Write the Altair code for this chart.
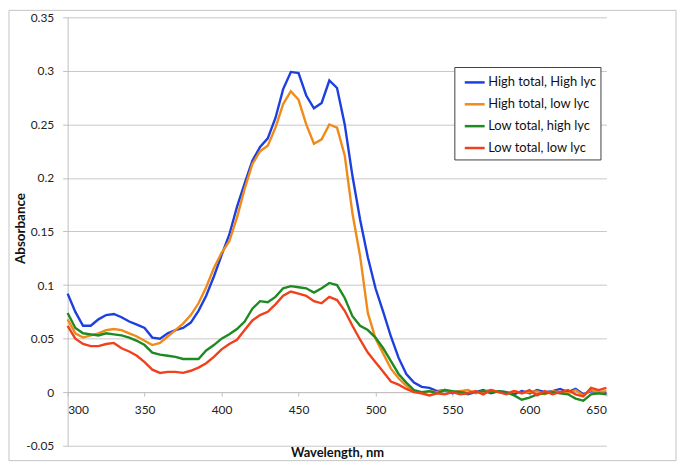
import altair as alt
import pandas as pd

# ---- data ----
wavelength = list(range(300, 655, 5))

series_names = [
    "High total, High lyc",
    "High total, low lyc",
    "Low total, high lyc",
    "Low total, low lyc",
]
series_colors = ["#1c3fe0", "#f08a1a", "#1e8a22", "#f0401c"]

high_total_high_lyc = [
    0.092, 0.075, 0.062, 0.062, 0.068, 0.072, 0.073, 0.070, 0.066, 0.063,
    0.060, 0.051, 0.050, 0.055, 0.058, 0.060, 0.065, 0.076, 0.090, 0.108,
    0.128, 0.147, 0.173, 0.195, 0.216, 0.229, 0.237, 0.256, 0.283, 0.299,
    0.298, 0.277, 0.265, 0.270, 0.291, 0.284, 0.250, 0.202, 0.161, 0.126,
    0.097, 0.075, 0.052, 0.032, 0.017, 0.009,
    0.005, 0.004, 0.001, 0.002, -0.001, 0.001, -0.002, 0.000, 0.002, -0.001,
    0.001, 0.000, -0.002, 0.001, -0.001, 0.002, 0.000, 0.001, 0.003, 0.000,
    0.003, -0.002, 0.001, 0.000, -0.001,
]
high_total_low_lyc = [
    0.068, 0.055, 0.051, 0.053, 0.055, 0.058, 0.059, 0.058, 0.055, 0.052,
    0.048, 0.044, 0.046, 0.052, 0.058, 0.064, 0.072, 0.083, 0.098, 0.116,
    0.130, 0.141, 0.163, 0.190, 0.213, 0.225, 0.230, 0.247, 0.269, 0.281,
    0.273, 0.250, 0.232, 0.236, 0.250, 0.247, 0.221, 0.167, 0.127, 0.074,
    0.050, 0.036, 0.022, 0.013, 0.006, 0.001,
    -0.001, 0.001, 0.000, 0.002, 0.000, 0.001, 0.002, -0.001, 0.001, 0.002,
    0.000, -0.001, 0.001, -0.001, 0.000, 0.001, -0.002, 0.001, 0.000, -0.001,
    0.002, -0.003, 0.002, 0.000, 0.001,
]
low_total_high_lyc = [
    0.074, 0.060, 0.055, 0.054, 0.053, 0.055, 0.054, 0.053, 0.051, 0.048,
    0.044, 0.037, 0.035, 0.034, 0.033, 0.031, 0.031, 0.031, 0.039, 0.044,
    0.050, 0.054, 0.059, 0.066, 0.078, 0.085, 0.084, 0.089, 0.097, 0.099,
    0.098, 0.097, 0.093, 0.097, 0.102, 0.100, 0.088, 0.071, 0.062, 0.058,
    0.051, 0.041, 0.029, 0.017, 0.009, 0.002,
    0.000, 0.001, -0.001, 0.002, 0.001, 0.000, -0.001, 0.000, 0.001, 0.000,
    0.001, 0.000, -0.003, -0.007, -0.005, -0.002, -0.001, 0.000, -0.001, -0.002,
    -0.006, -0.008, -0.002, -0.001, -0.002,
]
low_total_low_lyc = [
    0.062, 0.050, 0.045, 0.043, 0.043, 0.045, 0.046, 0.041, 0.038, 0.034,
    0.028, 0.021, 0.018, 0.019, 0.019, 0.018, 0.020, 0.023, 0.027, 0.033,
    0.040, 0.045, 0.049, 0.058, 0.067, 0.072, 0.075, 0.082, 0.090, 0.094,
    0.092, 0.090, 0.085, 0.083, 0.089, 0.086, 0.076, 0.062, 0.049, 0.037,
    0.028, 0.019, 0.010, 0.007, 0.003, 0.000,
    -0.001, -0.003, -0.001, -0.002, 0.000, -0.002, -0.001, 0.001, -0.002, 0.002,
    0.000, -0.002, 0.001, -0.001, 0.002, -0.003, 0.001, -0.002, 0.000, 0.002,
    -0.002, -0.004, 0.004, 0.002, 0.004,
]

x_ticks = [300, 350, 400, 450, 500, 550, 600, 650]
y_ticks = [-0.05, 0, 0.05, 0.1, 0.15, 0.2, 0.25, 0.3, 0.35]

all_series = [high_total_high_lyc, high_total_low_lyc, low_total_high_lyc, low_total_low_lyc]
rows = []
for name, vals in zip(series_names, all_series):
    for w, v in zip(wavelength, vals):
        rows.append({"Wavelength": w, "Absorbance": v, "Series": name})
df = pd.DataFrame(rows)

W, H = 542, 431
FONT = "Lato"
GRID = "#c8c8c8"

border = alt.Chart(alt.Data(values=[{}])).mark_rect(
    fill="transparent", stroke="#c4c4c4", strokeWidth=1
).encode(
    x=alt.value(-59), x2=alt.value(612), y=alt.value(-7), y2=alt.value(446)
)

lines = alt.Chart(df).mark_line(strokeWidth=2.4).encode(
    x=alt.X(
        "Wavelength:Q",
        scale=alt.Scale(domain=[300, 650], nice=False, zero=False),
        axis=alt.Axis(
            values=x_ticks, title="Wavelength, nm", grid=False,
            offset=-53.9, domainColor="#bfbfbf", tickColor="#bfbfbf",
            tickSize=4, labelPadding=8, labelFontSize=12, labelFont=FONT,
            labelColor="#222222", titleFont=FONT, titleFontSize=13,
            titleFontWeight="bold", titleColor="#111111",
            titleY=65, titleBaseline="alphabetic",
        ),
    ),
    y=alt.Y(
        "Absorbance:Q",
        scale=alt.Scale(domain=[-0.05, 0.35], nice=False, zero=False),
        axis=alt.Axis(
            values=y_ticks, title="Absorbance",
            labelExpr="toString(round(datum.value*100)/100)",
            grid=True, gridColor=GRID, domainColor="#bfbfbf",
            tickColor="#bfbfbf", tickSize=5, labelPadding=9,
            labelFontSize=12, labelFont=FONT, labelColor="#222222",
            titleFont=FONT, titleFontSize=13.5, titleFontWeight="bold",
            titleColor="#111111", titleX=-47, titleY=212,
            titleBaseline="middle",
        ),
    ),
    color=alt.Color(
        "Series:N",
        scale=alt.Scale(domain=series_names, range=series_colors),
        legend=alt.Legend(
            title=None, orient="none", legendX=389, legendY=50,
            strokeColor="#404040", fillColor="white", padding=4,
            symbolType="stroke", symbolSize=400, symbolStrokeWidth=2.5,
            symbolOffset=5, labelOffset=2, rowPadding=3,
            labelFont=FONT, labelFontSize=13, labelColor="#111111",
        ),
    ),
)

chart = alt.layer(border, lines).properties(
    width=W, height=H, padding=0
).configure_view(strokeWidth=0)

chart.save("out.html", embed_options={"renderer": "svg", "actions": False})
